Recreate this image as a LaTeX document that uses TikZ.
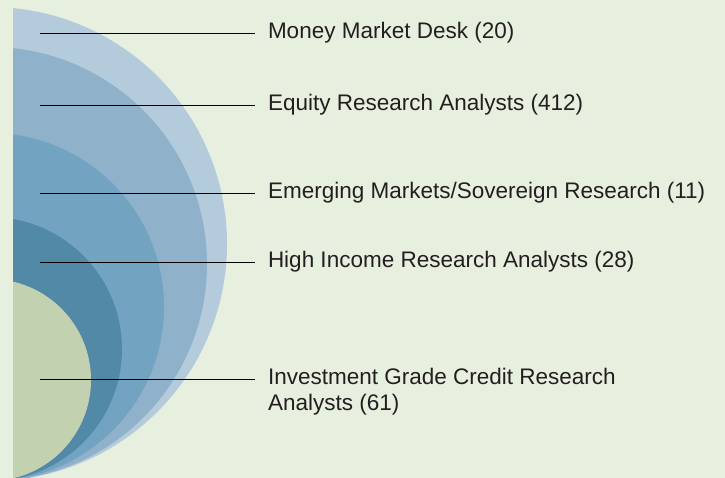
\documentclass[tikz,border=0pt]{standalone}
\usepackage{fontspec}
\setmainfont{Liberation Sans}
\usepackage{tikz}
\definecolor{bgcol}{HTML}{E7EFDF}
\definecolor{ringa}{HTML}{B4CBDC}
\definecolor{ringb}{HTML}{8FB1CA}
\definecolor{ringc}{HTML}{72A3C1}
\definecolor{ringd}{HTML}{5289A6}
\definecolor{corecol}{HTML}{C2D1B0}
\definecolor{txtcol}{HTML}{231F20}
\tikzset{leader/.style = {draw=black,line width=0.9pt}}
\tikzset{lbl/.style = {anchor=west,inner sep=0pt,outer xsep=13pt,align=left,
    text=txtcol,font=\fontsize{22.5}{26}\selectfont}}

\begin{document}
\begin{tikzpicture}[x=1pt,y=1pt]
        \fill[bgcol] (0,0) rectangle (725,478);
        \useasboundingbox (0,0) rectangle (725,478);
        \begin{scope}
            \clip (13,0) rectangle (725,478);
            \fill[ringa] (-10,234) circle[radius=237pt];
            \fill[ringb] (-10,214) circle[radius=217pt];
            \fill[ringc] (-10,171) circle[radius=174pt];
            \fill[ringd] (-10,129) circle[radius=132pt];
            \fill[corecol] (-10,98) circle[radius=101pt];
        \end{scope}
        \coordinate (mm) at (40,445);
        \node[lbl] (mmdesk) at (255,445) {Money Market Desk (20)};
        \draw[leader] (mm) -- (mm -| mmdesk.west);
        \coordinate (eq) at (40,373);
        \node[lbl] (equity) at (255,373) {Equity Research Analysts (412)};
        \draw[leader] (eq) -- (eq -| equity.west);
        \coordinate (em) at (40,285);
        \node[lbl] (emerging) at (255,285) {Emerging Markets/Sovereign Research (11)};
        \draw[leader] (em) -- (em -| emerging.west);
        \coordinate (hi) at (40,216);
        \node[lbl] (highinc) at (255,216) {High Income Research Analysts (28)};
        \draw[leader] (hi) -- (hi -| highinc.west);
        \coordinate (ig) at (40,99);
        \node[lbl] (invgrade) at (255,86) {Investment Grade Credit Research\\Analysts (61)};
        \draw[leader] (ig) -- (ig -| invgrade.west);
    \end{tikzpicture}
\end{document}
